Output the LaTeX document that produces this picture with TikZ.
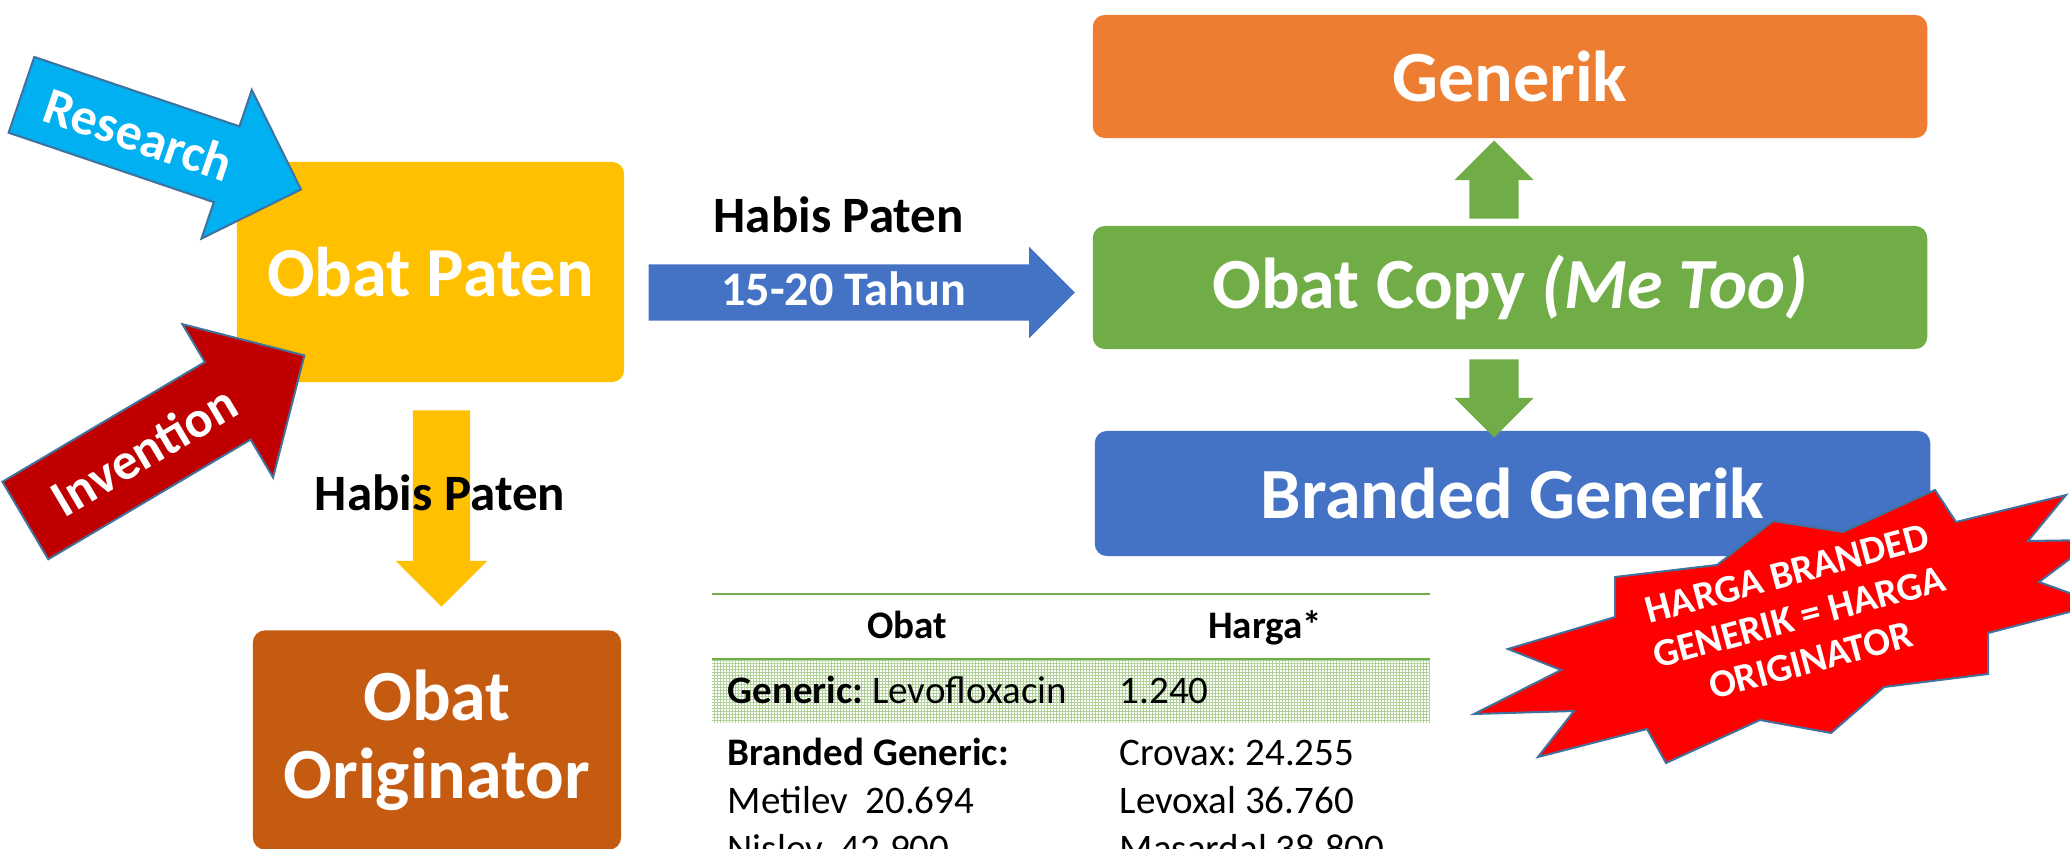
\documentclass[tikz,border=0pt]{standalone}
\usepackage{fontspec}
\setmainfont{Carlito}
\frenchspacing
\usetikzlibrary{positioning,calc,shapes.arrows}

\definecolor{patenyellow}{HTML}{FFC000}
\definecolor{origbrown}{HTML}{C55A11}
\definecolor{genorange}{HTML}{ED7D31}
\definecolor{copygreen}{HTML}{70AD47}
\definecolor{brandblue}{HTML}{4472C4}
\definecolor{researchcyan}{HTML}{00B0F0}
\definecolor{inventred}{HTML}{C00000}
\definecolor{edgeblue}{HTML}{41719C}

\tikzset{
  box/.style        = {rectangle, rounded corners=1.2mm, inner sep=0pt, align=center,
                       text=white, font=\bfseries\fontsize{20.5}{22.2}\selectfont},
  % #1 = half shaft width, #2 = how far the head sticks out
  blockarrow/.style 2 args = {single arrow, inner xsep=0pt, inner ysep=#1,
                       single arrow head extend=#2, anchor=tail},
  arrowtext/.style  = {inner sep=0pt, text=white, font=\bfseries\fontsize{14.8}{17}\selectfont},
  habis/.style      = {inner sep=0pt, anchor=base, font=\bfseries\fontsize{14.5}{17}\selectfont},
  cell/.style       = {inner sep=0pt, anchor=base west, font=\fontsize{11.1}{13.6}\selectfont},
  head/.style       = {inner sep=0pt, anchor=base, font=\bfseries\fontsize{11.1}{13.6}\selectfont},
  rule/.style       = {copygreen, line width=0.25mm},
  bursttext/.style  = {inner sep=0pt, align=center, text=white,
                       font=\bfseries\fontsize{11.2}{12.8}\selectfont}
}

\begin{document}
\begin{tikzpicture}[x=0.01cm, y=-0.01cm]
  \useasboundingbox (0,0) rectangle (2070,849);
  \clip (0,0) rectangle (2070,849);

  % the boxes
  \node[box, fill=patenyellow, minimum width=38.7mm, minimum height=22mm,
        font=\bfseries\fontsize{20}{22}\selectfont] (paten) at (430.5,272) {Obat Paten};
  \node[box, fill=origbrown, minimum width=36.8mm, minimum height=21.9mm] (orig) at (437,740) {Obat\\Originator};
  \node[box, fill=genorange, minimum width=83.4mm, minimum height=12.3mm] (generik) at (1510,76.5) {Generik};
  \node[box, fill=copygreen, minimum width=83.4mm, minimum height=12.3mm] (copy) at (1510,287.5) {Obat Copy \textit{(Me Too)}};
  \node[box, fill=brandblue, minimum width=83.5mm, minimum height=12.5mm] (branded) at (1512.5,493.5) {Branded Generik};

  % research and invention feed the patent
  \node[blockarrow={3.9mm}{3.85mm}, fill=researchcyan, draw=edgeblue, line width=0.2mm,
        minimum height=29.5mm, rotate=-18.7] (research) at (20.5,94.5) {};
  \node[arrowtext, rotate=-18.7] at ($(research.tail)!0.42!(research.tip)$) {Research};

  \node[blockarrow={4.4mm}{4.4mm}, fill=inventred, draw=edgeblue, line width=0.2mm,
        minimum height=32.4mm, rotate=30.6] (invention) at (24.5,521) {};
  \node[arrowtext, rotate=30.6] at ($(invention.tail)!0.425!(invention.tip)$) {Invention};

  % patent runs out
  \node[blockarrow={2.8mm}{1.7mm}, fill=patenyellow, minimum height=19.6mm,
        rotate=-90] (expiry) at ([xshift=1.1mm, yshift=-2.7mm]paten.south) {};
  \node[habis] at ([xshift=-0.15mm, yshift=-10.1mm]expiry.tail) {Habis Paten};

  \node[blockarrow={2.75mm}{1.75mm}, fill=brandblue, minimum height=42.6mm]
        (tahun) at ($(paten.east |- copy.west)+(23,5)$) {};
  \node[habis] at ($(tahun.tail)+(191,-59.5)$) {Habis Paten};
  \node[habis, text=white, font=\bfseries\fontsize{13.7}{16}\selectfont]
        at ($(tahun.tail)+(196,13.5)$) {15-20 Tahun};

  % copies split up
  \node[blockarrow={2.4mm}{1.5mm}, fill=copygreen, minimum height=7.8mm,
        rotate=90] (toGeneric) at ([xshift=-1.6mm, yshift=0.6mm]copy.north) {};
  \node[blockarrow={2.4mm}{1.5mm}, fill=copygreen, minimum height=7.8mm,
        rotate=-90] (toBranded) at ([xshift=-1.6mm, yshift=-0.9mm]copy.south) {};

  % price table
  \fill[white] (712,659) rectangle (1430,723);
  \draw[copygreen!55, line width=0.05mm, step=0.3mm] (712,659) grid (1430,723);
  \draw[rule] (712,594) -- (1430,594);
  \draw[rule] (712,659) -- (1430,659);
  \node[head] (tObat) at (907,638) {Obat};
  \node[head] (tHarga) at (1265,638) {Harga*};
  \foreach \drug/\price/\ypos [count=\r] in {
      {\textbf{Generic:} Levofloxacin}/{1.240}/703,
      {\textbf{Branded Generic:}}/{Crovax: 24.255}/765,
      {Metilev~ 20.694}/{Levoxal 36.760}/813,
      {Nislev~ 42.900}/{Masardal 38.800}/861}
  {
    \node[cell] (drug\r) at (727,\ypos) {\drug};
    \node[cell] (price\r) at (1119,\ypos) {\price};
  }

  % burst
  \draw[fill=red, draw=edgeblue, line width=0.2mm]
    (1935,490) -- (1956,522) -- (2066,495) -- (2028,541) -- (2095,540) -- (2039,582)
    -- (2100,604) -- (1988,633) -- (1988,674) -- (1884,687) -- (1831,733) -- (1760,720)
    -- (1666,763) -- (1647,729) -- (1538,757) -- (1574,711) -- (1474,714) -- (1561,670)
    -- (1508,649) -- (1615,617) -- (1615,577) -- (1717,565) -- (1773,521) -- (1843,532) -- cycle;
  \node[bursttext, rotate=15] (harga) at (1799,617) {HARGA BRANDED\\GENERIK = HARGA\\ORIGINATOR};
\end{tikzpicture}
\end{document}
